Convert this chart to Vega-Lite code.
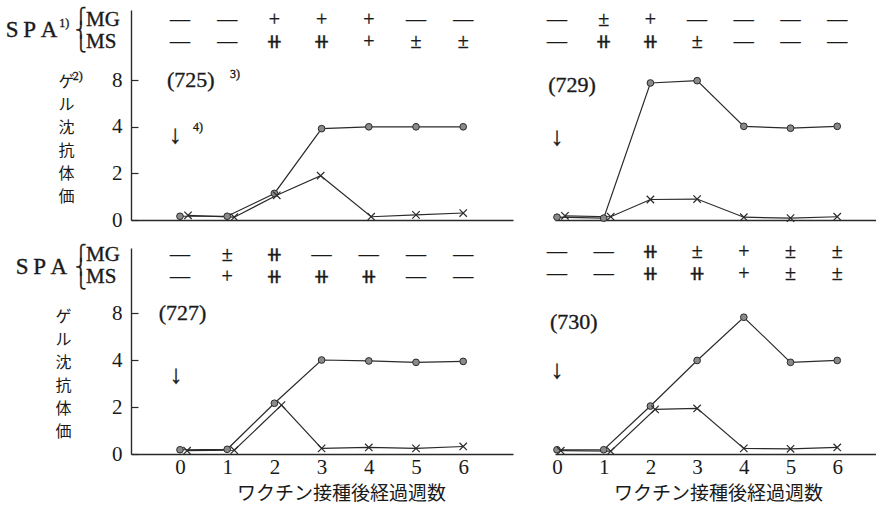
{
  "$schema": "https://vega.github.io/schema/vega-lite/v6.json",
  "autosize": {"type": "none"},
  "padding": {"left": 131, "top": 10, "right": 745, "bottom": 496},
  "background": "white",
  "config": {
    "view": {"stroke": null},
    "text": {"font": "Liberation Serif, DejaVu Serif, DejaVu Sans", "color": "#1a1a1a", "stroke": "#1a1a1a", "strokeWidth": 0.35},
    "axis": {"grid": false, "domainColor": "#2a2a2a", "domainWidth": 1.4}
  },
  "datasets": {
    "obs": [
      {"panel": "725", "series": "circle", "week": 0, "level": 0.08},
      {"panel": "725", "series": "circle", "week": 1, "level": 0.08},
      {"panel": "725", "series": "circle", "week": 2, "level": 0.57},
      {"panel": "725", "series": "circle", "week": 3, "level": 1.96},
      {"panel": "725", "series": "circle", "week": 4, "level": 2.0},
      {"panel": "725", "series": "circle", "week": 5, "level": 2.0},
      {"panel": "725", "series": "circle", "week": 6, "level": 2.0},
      {"panel": "725", "series": "cross", "week": 0.17, "level": 0.1},
      {"panel": "725", "series": "cross", "week": 1.15, "level": 0.06},
      {"panel": "725", "series": "cross", "week": 2.05, "level": 0.53},
      {"panel": "725", "series": "cross", "week": 2.98, "level": 0.95},
      {"panel": "725", "series": "cross", "week": 4.05, "level": 0.07},
      {"panel": "725", "series": "cross", "week": 5.0, "level": 0.11},
      {"panel": "725", "series": "cross", "week": 6.0, "level": 0.15},
      {"panel": "729", "series": "circle", "week": 0, "level": 0.06},
      {"panel": "729", "series": "circle", "week": 1, "level": 0.04},
      {"panel": "729", "series": "circle", "week": 2, "level": 2.94},
      {"panel": "729", "series": "circle", "week": 3, "level": 2.99},
      {"panel": "729", "series": "circle", "week": 4, "level": 2.01},
      {"panel": "729", "series": "circle", "week": 5, "level": 1.97},
      {"panel": "729", "series": "circle", "week": 6, "level": 2.01},
      {"panel": "729", "series": "cross", "week": 0.17, "level": 0.09},
      {"panel": "729", "series": "cross", "week": 1.15, "level": 0.07},
      {"panel": "729", "series": "cross", "week": 2.0, "level": 0.44},
      {"panel": "729", "series": "cross", "week": 3.0, "level": 0.45},
      {"panel": "729", "series": "cross", "week": 4.0, "level": 0.06},
      {"panel": "729", "series": "cross", "week": 5.0, "level": 0.04},
      {"panel": "729", "series": "cross", "week": 6.0, "level": 0.07},
      {"panel": "727", "series": "circle", "week": 0, "level": 0.09},
      {"panel": "727", "series": "circle", "week": 1, "level": 0.1},
      {"panel": "727", "series": "circle", "week": 2, "level": 1.08},
      {"panel": "727", "series": "circle", "week": 3, "level": 2.0},
      {"panel": "727", "series": "circle", "week": 4, "level": 1.98},
      {"panel": "727", "series": "circle", "week": 5, "level": 1.95},
      {"panel": "727", "series": "circle", "week": 6, "level": 1.97},
      {"panel": "727", "series": "cross", "week": 0.15, "level": 0.07},
      {"panel": "727", "series": "cross", "week": 1.15, "level": 0.08},
      {"panel": "727", "series": "cross", "week": 2.15, "level": 1.04},
      {"panel": "727", "series": "cross", "week": 3.0, "level": 0.12},
      {"panel": "727", "series": "cross", "week": 4.0, "level": 0.14},
      {"panel": "727", "series": "cross", "week": 5.0, "level": 0.12},
      {"panel": "727", "series": "cross", "week": 6.0, "level": 0.16},
      {"panel": "730", "series": "circle", "week": 0, "level": 0.09},
      {"panel": "730", "series": "circle", "week": 1, "level": 0.09},
      {"panel": "730", "series": "circle", "week": 2, "level": 1.02},
      {"panel": "730", "series": "circle", "week": 3, "level": 1.99},
      {"panel": "730", "series": "circle", "week": 4, "level": 2.91},
      {"panel": "730", "series": "circle", "week": 5, "level": 1.95},
      {"panel": "730", "series": "circle", "week": 6, "level": 1.99},
      {"panel": "730", "series": "cross", "week": 0.08, "level": 0.07},
      {"panel": "730", "series": "cross", "week": 1.15, "level": 0.06},
      {"panel": "730", "series": "cross", "week": 2.1, "level": 0.95},
      {"panel": "730", "series": "cross", "week": 3.0, "level": 0.97},
      {"panel": "730", "series": "cross", "week": 4.0, "level": 0.12},
      {"panel": "730", "series": "cross", "week": 5.0, "level": 0.11},
      {"panel": "730", "series": "cross", "week": 6.0, "level": 0.14}
    ],
    "spa": [
      {"panel": "725", "week": 0, "MG": "—", "MS": "—"},
      {"panel": "725", "week": 1, "MG": "—", "MS": "—"},
      {"panel": "725", "week": 2, "MG": "+", "MS": "⧺"},
      {"panel": "725", "week": 3, "MG": "+", "MS": "⧺"},
      {"panel": "725", "week": 4, "MG": "+", "MS": "+"},
      {"panel": "725", "week": 5, "MG": "—", "MS": "±"},
      {"panel": "725", "week": 6, "MG": "—", "MS": "±"},
      {"panel": "729", "week": 0, "MG": "—", "MS": "—"},
      {"panel": "729", "week": 1, "MG": "±", "MS": "⧺"},
      {"panel": "729", "week": 2, "MG": "+", "MS": "⧺"},
      {"panel": "729", "week": 3, "MG": "—", "MS": "±"},
      {"panel": "729", "week": 4, "MG": "—", "MS": "—"},
      {"panel": "729", "week": 5, "MG": "—", "MS": "—"},
      {"panel": "729", "week": 6, "MG": "—", "MS": "—"},
      {"panel": "727", "week": 0, "MG": "—", "MS": "—"},
      {"panel": "727", "week": 1, "MG": "±", "MS": "+"},
      {"panel": "727", "week": 2, "MG": "⧺", "MS": "⧺"},
      {"panel": "727", "week": 3, "MG": "—", "MS": "⧺"},
      {"panel": "727", "week": 4, "MG": "—", "MS": "⧺"},
      {"panel": "727", "week": 5, "MG": "—", "MS": "—"},
      {"panel": "727", "week": 6, "MG": "—", "MS": "—"},
      {"panel": "730", "week": 0, "MG": "—", "MS": "—"},
      {"panel": "730", "week": 1, "MG": "—", "MS": "—"},
      {"panel": "730", "week": 2, "MG": "⧺", "MS": "⧺"},
      {"panel": "730", "week": 3, "MG": "±", "MS": "⧺"},
      {"panel": "730", "week": 4, "MG": "+", "MS": "+"},
      {"panel": "730", "week": 5, "MG": "±", "MS": "±"},
      {"panel": "730", "week": 6, "MG": "±", "MS": "±"}
    ]
  },
  "columns": 2,
  "spacing": {"row": 28, "column": 42},
  "bounds": "flush",
  "concat": [
    {
      "width": 382, "height": 210,
      "layer": [
        {"data": {"name": "obs"}, "transform": [{"filter": "datum.panel == '725'"}],
         "mark": {"type": "line", "color": "#2a2a2a", "strokeWidth": 1.2},
         "encoding": {
           "x": {"field": "week", "type": "quantitative", "scale": {"domain": [-1.038, 7.055], "nice": false, "zero": false},
                 "axis": {"title": null, "labels": false, "ticks": false}},
           "y": {"field": "level", "type": "quantitative", "scale": {"domain": [0, 4.506], "nice": false, "zero": false},
                 "axis": {"values": [0, 1, 2, 3], "labelExpr": "datum.value == 0 ? '0' : datum.value == 1 ? '2' : datum.value == 2 ? '4' : '8'",
                          "tickSize": -7, "tickColor": "#2a2a2a", "tickWidth": 1.2, "labelPadding": 16, "labelOverlap": false,
                          "labelFont": "Liberation Serif", "labelFontSize": 21, "labelColor": "#1a1a1a",
                          "title": ["ゲ", "ル", "沈", "抗", "体", "価"], "titleAngle": 0, "titleFont": "Noto Sans CJK JP", "titleFontSize": 16,
                          "titleFontWeight": "normal", "titleColor": "#1a1a1a", "titleLineHeight": 23, "titleX": -65, "titleY": 63,
                          "titleAlign": "center", "titleBaseline": "top"}},
           "detail": {"field": "series"}}},
        {"data": {"name": "obs"}, "transform": [{"filter": "datum.panel == '725' && datum.series == 'circle'"}],
         "mark": {"type": "point", "shape": "circle", "filled": true, "size": 45, "fill": "#8a8a8a", "stroke": "#2a2a2a", "strokeWidth": 1, "opacity": 1},
         "encoding": {"x": {"field": "week", "type": "quantitative"}, "y": {"field": "level", "type": "quantitative"}}},
        {"data": {"name": "obs"}, "transform": [{"filter": "datum.panel == '725' && datum.series == 'cross'"}],
         "mark": {"type": "point", "shape": "M-1,-1L1,1M-1,1L1,-1", "filled": false, "size": 55, "stroke": "#2a2a2a", "strokeWidth": 1.2, "opacity": 1},
         "encoding": {"x": {"field": "week", "type": "quantitative"}, "y": {"field": "level", "type": "quantitative"}}},
        {"data": {"name": "spa"}, "transform": [{"filter": "datum.panel == '725'"}],
         "mark": {"type": "text", "fontSize": 20, "baseline": "middle", "color": "#1a1a1a"},
         "encoding": {"x": {"field": "week", "type": "quantitative"}, "y": {"datum": 4.30, "type": "quantitative"}, "text": {"field": "MG"}}},
        {"data": {"name": "spa"}, "transform": [{"filter": "datum.panel == '725'"}],
         "mark": {"type": "text", "fontSize": 20, "baseline": "middle", "color": "#1a1a1a"},
         "encoding": {"x": {"field": "week", "type": "quantitative"}, "y": {"datum": 3.81, "type": "quantitative"}, "text": {"field": "MS"}}},
        {"data": {"values": [{}]}, "mark": {"type": "text", "text": "S\u2009P\u2009A", "fontSize": 23, "align": "right", "baseline": "middle", "color": "#1a1a1a"},
         "encoding": {"x": {"datum": -2.6, "type": "quantitative"}, "y": {"datum": 4.07, "type": "quantitative"}}},
        {"data": {"values": [{}]}, "mark": {"type": "text", "text": "1)", "fontSize": 12, "align": "left", "baseline": "middle", "color": "#1a1a1a"},
         "encoding": {"x": {"datum": -2.56, "type": "quantitative"}, "y": {"datum": 4.22, "type": "quantitative"}}},
        {"data": {"values": [{}]}, "mark": {"type": "text", "text": ["⎧", "⎨", "⎩"], "font": "DejaVu Sans", "fontSize": 15, "lineHeight": 14, "align": "center", "baseline": "top", "color": "#1a1a1a"},
         "encoding": {"x": {"datum": -2.1, "type": "quantitative"}, "y": {"datum": 4.52, "type": "quantitative"}}},
        {"data": {"values": [{}]}, "mark": {"type": "text", "text": "MG", "fontSize": 21, "align": "left", "baseline": "middle", "color": "#1a1a1a"},
         "encoding": {"x": {"datum": -1.99, "type": "quantitative"}, "y": {"datum": 4.30, "type": "quantitative"}}},
        {"data": {"values": [{}]}, "mark": {"type": "text", "text": "MS", "fontSize": 21, "align": "left", "baseline": "middle", "color": "#1a1a1a"},
         "encoding": {"x": {"datum": -1.99, "type": "quantitative"}, "y": {"datum": 3.81, "type": "quantitative"}}},
        {"data": {"values": [{}]}, "mark": {"type": "text", "text": "(725)", "fontSize": 22, "align": "left", "baseline": "middle", "color": "#1a1a1a"},
         "encoding": {"x": {"datum": -0.275, "type": "quantitative"}, "y": {"datum": 3.01, "type": "quantitative"}}},
        {"data": {"values": [{}]}, "mark": {"type": "text", "text": "3)", "fontSize": 12, "align": "left", "baseline": "middle", "color": "#1a1a1a"},
         "encoding": {"x": {"datum": 1.06, "type": "quantitative"}, "y": {"datum": 3.14, "type": "quantitative"}}},
        {"data": {"values": [{}]}, "mark": {"type": "text", "text": "↓", "fontSize": 26, "align": "center", "baseline": "middle", "color": "#1a1a1a"},
         "encoding": {"x": {"datum": -0.1, "type": "quantitative"}, "y": {"datum": 1.83, "type": "quantitative"}}},
        {"data": {"values": [{}]}, "mark": {"type": "text", "text": "4)", "fontSize": 12, "align": "left", "baseline": "middle", "color": "#1a1a1a"},
         "encoding": {"x": {"datum": 0.275, "type": "quantitative"}, "y": {"datum": 2.0, "type": "quantitative"}}},
        {"data": {"values": [{}]}, "mark": {"type": "text", "text": "2)", "fontSize": 12, "align": "left", "baseline": "middle", "color": "#1a1a1a"},
         "encoding": {"x": {"datum": -2.27, "type": "quantitative"}, "y": {"datum": 3.1, "type": "quantitative"}}}
      ]
    },
    {
      "width": 321, "height": 210,
      "layer": [
        {"data": {"name": "obs"}, "transform": [{"filter": "datum.panel == '729'"}],
         "mark": {"type": "line", "color": "#2a2a2a", "strokeWidth": 1.2},
         "encoding": {
           "x": {"field": "week", "type": "quantitative", "scale": {"domain": [-0.043, 6.83], "nice": false, "zero": false},
                 "axis": {"title": null, "labels": false, "ticks": false}},
           "y": {"field": "level", "type": "quantitative", "scale": {"domain": [0, 4.506], "nice": false, "zero": false}, "axis": null},
           "detail": {"field": "series"}}},
        {"data": {"name": "obs"}, "transform": [{"filter": "datum.panel == '729' && datum.series == 'circle'"}],
         "mark": {"type": "point", "shape": "circle", "filled": true, "size": 45, "fill": "#8a8a8a", "stroke": "#2a2a2a", "strokeWidth": 1, "opacity": 1},
         "encoding": {"x": {"field": "week", "type": "quantitative"}, "y": {"field": "level", "type": "quantitative", "axis": null}}},
        {"data": {"name": "obs"}, "transform": [{"filter": "datum.panel == '729' && datum.series == 'cross'"}],
         "mark": {"type": "point", "shape": "M-1,-1L1,1M-1,1L1,-1", "filled": false, "size": 55, "stroke": "#2a2a2a", "strokeWidth": 1.2, "opacity": 1},
         "encoding": {"x": {"field": "week", "type": "quantitative"}, "y": {"field": "level", "type": "quantitative", "axis": null}}},
        {"data": {"name": "spa"}, "transform": [{"filter": "datum.panel == '729'"}],
         "mark": {"type": "text", "fontSize": 20, "baseline": "middle", "color": "#1a1a1a"},
         "encoding": {"x": {"field": "week", "type": "quantitative"}, "y": {"datum": 4.30, "type": "quantitative", "axis": null}, "text": {"field": "MG"}}},
        {"data": {"name": "spa"}, "transform": [{"filter": "datum.panel == '729'"}],
         "mark": {"type": "text", "fontSize": 20, "baseline": "middle", "color": "#1a1a1a"},
         "encoding": {"x": {"field": "week", "type": "quantitative"}, "y": {"datum": 3.81, "type": "quantitative", "axis": null}, "text": {"field": "MS"}}},
        {"data": {"values": [{}]}, "mark": {"type": "text", "text": "(729)", "fontSize": 22, "align": "left", "baseline": "middle", "color": "#1a1a1a"},
         "encoding": {"x": {"datum": -0.19, "type": "quantitative"}, "y": {"datum": 2.89, "type": "quantitative", "axis": null}}},
        {"data": {"values": [{}]}, "mark": {"type": "text", "text": "↓", "fontSize": 26, "align": "center", "baseline": "middle", "color": "#1a1a1a"},
         "encoding": {"x": {"datum": 0.0, "type": "quantitative"}, "y": {"datum": 1.79, "type": "quantitative", "axis": null}}}
      ]
    },
    {
      "width": 382, "height": 206,
      "layer": [
        {"data": {"name": "obs"}, "transform": [{"filter": "datum.panel == '727'"}],
         "mark": {"type": "line", "color": "#2a2a2a", "strokeWidth": 1.2},
         "encoding": {
           "x": {"field": "week", "type": "quantitative", "scale": {"domain": [-1.038, 7.055], "nice": false, "zero": false},
                 "axis": {"values": [0, 1, 2, 3, 4, 5, 6], "ticks": false, "labelPadding": 2, "labelFlush": false, "labelOverlap": false,
                          "labelFont": "Liberation Serif", "labelFontSize": 21, "labelColor": "#1a1a1a",
                          "title": "ワクチン接種後経過週数", "titleFont": "Noto Sans CJK JP", "titleFontSize": 19, "titleFontWeight": "normal",
                          "titleColor": "#1a1a1a", "titleX": 210, "titleY": 39, "titleAlign": "center", "titleBaseline": "middle"}},
           "y": {"field": "level", "type": "quantitative", "scale": {"domain": [0, 4.383], "nice": false, "zero": false},
                 "axis": {"values": [0, 1, 2, 3], "labelExpr": "datum.value == 0 ? '0' : datum.value == 1 ? '2' : datum.value == 2 ? '4' : '8'",
                          "tickSize": -7, "tickColor": "#2a2a2a", "tickWidth": 1.2, "labelPadding": 16, "labelOverlap": false,
                          "labelFont": "Liberation Serif", "labelFontSize": 21, "labelColor": "#1a1a1a",
                          "title": ["ゲ", "ル", "沈", "抗", "体", "価"], "titleAngle": 0, "titleFont": "Noto Sans CJK JP", "titleFontSize": 16,
                          "titleFontWeight": "normal", "titleColor": "#1a1a1a", "titleLineHeight": 23, "titleX": -68, "titleY": 60,
                          "titleAlign": "center", "titleBaseline": "top"}},
           "detail": {"field": "series"}}},
        {"data": {"name": "obs"}, "transform": [{"filter": "datum.panel == '727' && datum.series == 'circle'"}],
         "mark": {"type": "point", "shape": "circle", "filled": true, "size": 45, "fill": "#8a8a8a", "stroke": "#2a2a2a", "strokeWidth": 1, "opacity": 1},
         "encoding": {"x": {"field": "week", "type": "quantitative"}, "y": {"field": "level", "type": "quantitative"}}},
        {"data": {"name": "obs"}, "transform": [{"filter": "datum.panel == '727' && datum.series == 'cross'"}],
         "mark": {"type": "point", "shape": "M-1,-1L1,1M-1,1L1,-1", "filled": false, "size": 55, "stroke": "#2a2a2a", "strokeWidth": 1.2, "opacity": 1},
         "encoding": {"x": {"field": "week", "type": "quantitative"}, "y": {"field": "level", "type": "quantitative"}}},
        {"data": {"name": "spa"}, "transform": [{"filter": "datum.panel == '727'"}],
         "mark": {"type": "text", "fontSize": 20, "baseline": "middle", "color": "#1a1a1a"},
         "encoding": {"x": {"field": "week", "type": "quantitative"}, "y": {"datum": 4.23, "type": "quantitative"}, "text": {"field": "MG"}}},
        {"data": {"values": [{}]}, "mark": {"type": "text", "text": "S\u2009P\u2009A", "fontSize": 23, "align": "right", "baseline": "middle", "color": "#1a1a1a"},
         "encoding": {"x": {"datum": -2.39, "type": "quantitative"}, "y": {"datum": 3.98, "type": "quantitative"}}},
        {"data": {"name": "spa"}, "transform": [{"filter": "datum.panel == '727'"}],
         "mark": {"type": "text", "fontSize": 20, "baseline": "middle", "color": "#1a1a1a"},
         "encoding": {"x": {"field": "week", "type": "quantitative"}, "y": {"datum": 3.77, "type": "quantitative"}, "text": {"field": "MS"}}},
        {"data": {"values": [{}]}, "mark": {"type": "text", "text": ["⎧", "⎨", "⎩"], "font": "DejaVu Sans", "fontSize": 15, "lineHeight": 14, "align": "center", "baseline": "top", "color": "#1a1a1a"},
         "encoding": {"x": {"datum": -2.1, "type": "quantitative"}, "y": {"datum": 4.42, "type": "quantitative"}}},
        {"data": {"values": [{}]}, "mark": {"type": "text", "text": "MG", "fontSize": 21, "align": "left", "baseline": "middle", "color": "#1a1a1a"},
         "encoding": {"x": {"datum": -1.99, "type": "quantitative"}, "y": {"datum": 4.23, "type": "quantitative"}}},
        {"data": {"values": [{}]}, "mark": {"type": "text", "text": "MS", "fontSize": 21, "align": "left", "baseline": "middle", "color": "#1a1a1a"},
         "encoding": {"x": {"datum": -1.99, "type": "quantitative"}, "y": {"datum": 3.77, "type": "quantitative"}}},
        {"data": {"values": [{}]}, "mark": {"type": "text", "text": "(727)", "fontSize": 22, "align": "left", "baseline": "middle", "color": "#1a1a1a"},
         "encoding": {"x": {"datum": -0.45, "type": "quantitative"}, "y": {"datum": 3.0, "type": "quantitative"}}},
        {"data": {"values": [{}]}, "mark": {"type": "text", "text": "↓", "fontSize": 26, "align": "center", "baseline": "middle", "color": "#1a1a1a"},
         "encoding": {"x": {"datum": -0.085, "type": "quantitative"}, "y": {"datum": 1.68, "type": "quantitative"}}}
      ]
    },
    {
      "width": 321, "height": 206,
      "layer": [
        {"data": {"name": "obs"}, "transform": [{"filter": "datum.panel == '730'"}],
         "mark": {"type": "line", "color": "#2a2a2a", "strokeWidth": 1.2},
         "encoding": {
           "x": {"field": "week", "type": "quantitative", "scale": {"domain": [-0.043, 6.83], "nice": false, "zero": false},
                 "axis": {"values": [0, 1, 2, 3, 4, 5, 6], "ticks": false, "labelPadding": 2, "labelFlush": false, "labelOverlap": false,
                          "labelFont": "Liberation Serif", "labelFontSize": 21, "labelColor": "#1a1a1a",
                          "title": "ワクチン接種後経過週数", "titleFont": "Noto Sans CJK JP", "titleFontSize": 19, "titleFontWeight": "normal",
                          "titleColor": "#1a1a1a", "titleX": 163, "titleY": 39, "titleAlign": "center", "titleBaseline": "middle"}},
           "y": {"field": "level", "type": "quantitative", "scale": {"domain": [0, 4.383], "nice": false, "zero": false}, "axis": null},
           "detail": {"field": "series"}}},
        {"data": {"name": "obs"}, "transform": [{"filter": "datum.panel == '730' && datum.series == 'circle'"}],
         "mark": {"type": "point", "shape": "circle", "filled": true, "size": 45, "fill": "#8a8a8a", "stroke": "#2a2a2a", "strokeWidth": 1, "opacity": 1},
         "encoding": {"x": {"field": "week", "type": "quantitative"}, "y": {"field": "level", "type": "quantitative", "axis": null}}},
        {"data": {"name": "obs"}, "transform": [{"filter": "datum.panel == '730' && datum.series == 'cross'"}],
         "mark": {"type": "point", "shape": "M-1,-1L1,1M-1,1L1,-1", "filled": false, "size": 55, "stroke": "#2a2a2a", "strokeWidth": 1.2, "opacity": 1},
         "encoding": {"x": {"field": "week", "type": "quantitative"}, "y": {"field": "level", "type": "quantitative", "axis": null}}},
        {"data": {"name": "spa"}, "transform": [{"filter": "datum.panel == '730'"}],
         "mark": {"type": "text", "fontSize": 20, "baseline": "middle", "color": "#1a1a1a"},
         "encoding": {"x": {"field": "week", "type": "quantitative"}, "y": {"datum": 4.30, "type": "quantitative", "axis": null}, "text": {"field": "MG"}}},
        {"data": {"name": "spa"}, "transform": [{"filter": "datum.panel == '730'"}],
         "mark": {"type": "text", "fontSize": 20, "baseline": "middle", "color": "#1a1a1a"},
         "encoding": {"x": {"field": "week", "type": "quantitative"}, "y": {"datum": 3.84, "type": "quantitative", "axis": null}, "text": {"field": "MS"}}},
        {"data": {"values": [{}]}, "mark": {"type": "text", "text": "(730)", "fontSize": 22, "align": "left", "baseline": "middle", "color": "#1a1a1a"},
         "encoding": {"x": {"datum": -0.15, "type": "quantitative"}, "y": {"datum": 2.81, "type": "quantitative", "axis": null}}},
        {"data": {"values": [{}]}, "mark": {"type": "text", "text": "↓", "fontSize": 26, "align": "center", "baseline": "middle", "color": "#1a1a1a"},
         "encoding": {"x": {"datum": 0.0, "type": "quantitative"}, "y": {"datum": 1.79, "type": "quantitative", "axis": null}}}
      ]
    }
  ]
}
